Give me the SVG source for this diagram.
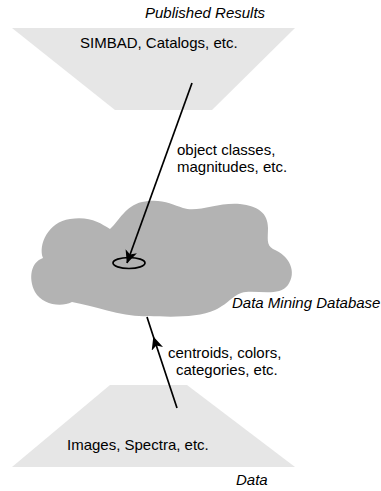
<svg xmlns="http://www.w3.org/2000/svg" width="381" height="491" viewBox="0 0 381 491">
  <style>
    text { font-family: "Liberation Sans", Arial, sans-serif; font-size: 15px; fill: #000; }
    .it { font-style: italic; }
    .tray { fill: #e6e6e6; stroke: none; }
    .cloud { fill: #b3b3b3; stroke: none; }
    .link { fill: none; stroke: #000; stroke-width: 1.7; }
  </style>
  <defs>
    <marker id="head" viewBox="0 0 13 12" refX="12.5" refY="6" markerWidth="13" markerHeight="12" markerUnits="userSpaceOnUse" orient="auto">
      <path d="M0,0 L13,6 L0,12 L3.5,6 Z" fill="#000"/>
    </marker>
  </defs>

  <!-- published results tray -->
  <g id="published">
    <polygon class="tray" points="12,28 295,28 212,110 115,110"/>
    <text class="it" x="145" y="18">Published Results</text>
    <text x="80" y="48">SIMBAD, Catalogs, etc.</text>
  </g>

  <!-- data mining database cloud -->
  <g id="database">
    <path class="cloud" d="M110,229
      C120,220 125,206 142,202
      C160,198 172,204 183,208
      C198,213 218,202 240,204
      C258,206 268,213 268,228
      C268,238 266,245 273,249
      C290,256 297,272 288,285
      C280,296 262,291 246,292
      C234,293 230,303 215,310
      C198,318 168,317 149,316
      C125,318 95,306 72,302
      C60,308 42,304 35,292
      C28,278 31,262 43,258
      C38,245 48,222 70,219
      C90,216 100,223 110,229 Z"/>
    <ellipse cx="129" cy="263" rx="16" ry="5.5" fill="none" stroke="#000" stroke-width="1.7"/>
    <text class="it" x="232" y="308">Data Mining Database</text>
  </g>

  <!-- raw data tray -->
  <g id="data">
    <polygon class="tray" points="110,385 187,385 295,467 12,467"/>
    <text x="67" y="450">Images, Spectra, etc.</text>
    <text class="it" x="236" y="485">Data</text>
  </g>

  <!-- connectors -->
  <g id="connectors">
    <path class="link" d="M192,83 L127,263" marker-end="url(#head)"/>
    <path class="link" d="M177,408 L153.5,337 L147,317" marker-mid="url(#head)"/>
    <text x="177" y="155">object classes,</text>
    <text x="177" y="172">magnitudes, etc.</text>
    <text x="168" y="358">centroids, colors,</text>
    <text x="176" y="375">categories, etc.</text>
  </g>
</svg>
